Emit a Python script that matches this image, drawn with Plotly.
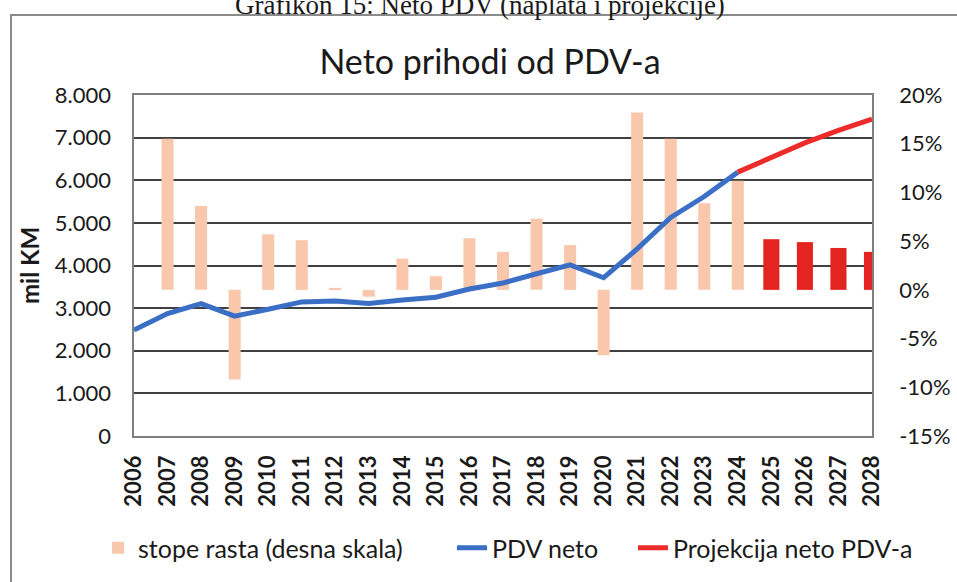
import plotly.graph_objects as go

# ---- data ----
years = list(range(2006, 2029))
pdv_neto_years = list(range(2006, 2025))
pdv_neto = [2485, 2874, 3107, 2812, 2975, 3146, 3169, 3110, 3192, 3254,
            3449, 3590, 3806, 4016, 3713, 4389, 5128, 5618, 6191]
proj_years = [2024, 2025, 2026, 2027, 2028]
proj = [6191, 6527, 6876, 7170, 7436]
growth_years = list(range(2007, 2025))
growth = [15.5, 8.6, -9.2, 5.7, 5.1, 0.2, -0.7, 3.2, 1.4, 5.3,
          3.9, 7.3, 4.6, -6.7, 18.2, 15.5, 8.9, 11.2]
proj_growth_years = [2025, 2026, 2027, 2028]
proj_growth = [5.2, 4.9, 4.3, 3.9]

left_tickvals = [0, 1000, 2000, 3000, 4000, 5000, 6000, 7000, 8000]
left_ticktext = ["0", "1.000", "2.000", "3.000", "4.000", "5.000", "6.000", "7.000", "8.000"]
right_tickvals = [-15, -10, -5, 0, 5, 10, 15, 20]
right_ticktext = ["-15%", "-10%", "-5%", "0%", "5%", "10%", "15%", "20%"]
year_labels = [str(y) for y in years]

FONT = "Lato"
TXT = "#1a1a1a"
W, H = 957, 582
L, R, T, B = 134, 85, 95, 146
PW = W - L - R
PH = H - T - B


def px_x(px):
    return (px - L) / PW


def px_y(py):
    return (H - B - py) / PH


fig = go.Figure()
fig.add_trace(go.Bar(x=growth_years, y=growth, name="stope rasta (desna skala)",
                     marker=dict(color="#F9C8AC", line=dict(width=0)), width=0.36,
                     yaxis="y", legend="legend"))
fig.add_trace(go.Bar(x=proj_growth_years, y=proj_growth, name="projekcija stope",
                     marker=dict(color="#E42420", line=dict(width=0)), width=0.48,
                     showlegend=False, yaxis="y"))
fig.add_trace(go.Scatter(x=pdv_neto_years, y=pdv_neto, mode="lines", name="PDV neto",
                         line=dict(color="#3B6FC6", width=5), yaxis="y2",
                         legend="legend2"))
fig.add_trace(go.Scatter(x=proj_years, y=proj, mode="lines", name="Projekcija neto PDV-a",
                         line=dict(color="#EE2B2B", width=5), yaxis="y2",
                         legend="legend3"))


def leg(text_x):
    return dict(orientation="h", xref="container", yref="container",
                x=(text_x - 39) / W, xanchor="left", y=1 - 548 / H, yanchor="middle",
                font=dict(family=FONT, size=25, color=TXT),
                bgcolor="rgba(0,0,0,0)", itemwidth=30)


fig.update_layout(
    width=W, height=H,
    margin=dict(l=L, r=R, t=T, b=B, autoexpand=False),
    paper_bgcolor="white", plot_bgcolor="white",
    font=dict(family=FONT, color=TXT),
    barmode="overlay",
    title=dict(text="Neto prihodi od PDV-a", font=dict(family=FONT, size=34, color=TXT),
               xref="container", x=490 / W, xanchor="center",
               yref="container", y=1 - 62 / H, yanchor="middle"),
    xaxis=dict(range=[2006, 2028], tickmode="array", tickvals=years, ticktext=year_labels,
               tickangle=-90, showgrid=False, zeroline=False, automargin=False,
               showline=True, mirror=True, linecolor="#7f7f7f", linewidth=1.6,
               ticks="", ticklabelstandoff=9,
               tickfont=dict(family=FONT, size=22, color=TXT, weight="bold")),
    yaxis=dict(side="right", range=[-15, 20], tickmode="array", tickvals=right_tickvals,
               ticktext=right_ticktext, showgrid=False, zeroline=False, automargin=False,
               showline=True, mirror=True, linecolor="#7f7f7f", linewidth=1.6,
               ticks="", ticklabelstandoff=21,
               tickfont=dict(family=FONT, size=22, color=TXT)),
    yaxis2=dict(overlaying="y", side="left", range=[0, 8000], tickmode="array",
                tickvals=left_tickvals, ticktext=left_ticktext, automargin=False,
                showgrid=True, gridcolor="#404040", gridwidth=1.5, zeroline=False,
                showline=False, ticks="", ticklabelstandoff=22,
                tickfont=dict(family=FONT, size=22, color=TXT),
                title=dict(text="mil KM", standoff=8,
                           font=dict(family=FONT, size=24, color=TXT, weight="bold"))),
    legend=leg(137),
    legend2=leg(491),
    legend3=leg(672),
    showlegend=True,
)

fig.add_annotation(text="Grafikon 15: Neto PDV (naplata i projekcije)",
                   xref="paper", yref="paper", x=px_x(480), y=px_y(5),
                   xanchor="center", yanchor="middle", showarrow=False,
                   font=dict(family="Liberation Serif", size=27, color=TXT))

fig.add_shape(type="rect", xref="paper", yref="paper",
              x0=px_x(11), x1=px_x(990), y0=px_y(620), y1=px_y(15),
              line=dict(color="#8a8a8a", width=2), fillcolor="rgba(0,0,0,0)",
              layer="above")

fig.write_html("out.html", config={"displayModeBar": False},
               post_script="document.body.style.margin='0';document.body.style.overflow='hidden';")
